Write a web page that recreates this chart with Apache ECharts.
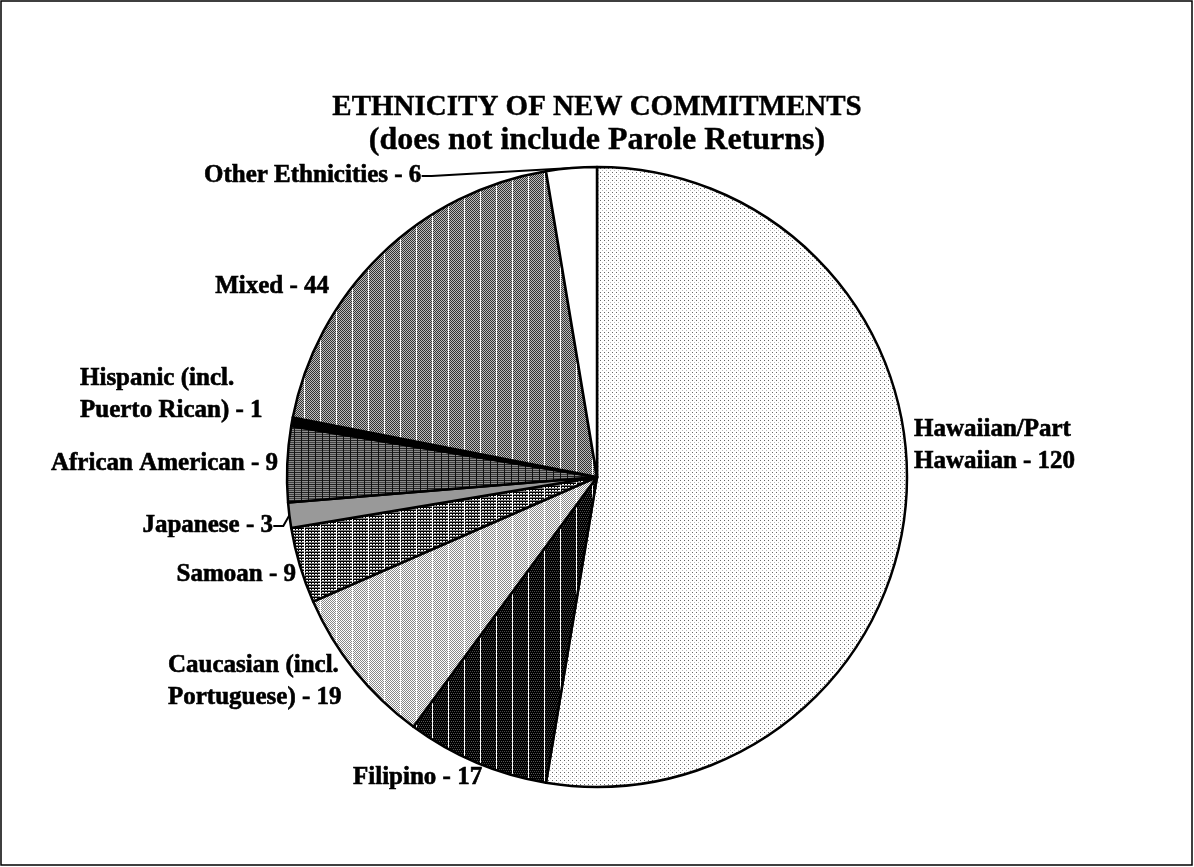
<!DOCTYPE html>
<html>
<head>
<meta charset="utf-8">
<script src="https://cdn.jsdelivr.net/npm/echarts@6/dist/echarts.min.js"></script>
<style>
html,body{margin:0;padding:0;background:#fff;}
#chart{width:1194px;height:867px;}
</style>
</head>
<body>
<div id="chart"></div>
<script>
// ---- data ----
var categories = [
  'Hawaiian/Part\nHawaiian',
  'Filipino',
  'Caucasian (incl.\nPortuguese)',
  'Samoan',
  'Japanese',
  'African American',
  'Hispanic (incl.\nPuerto Rican)',
  'Mixed',
  'Other Ethnicities'
];
var counts = [120, 17, 19, 9, 3, 9, 1, 44, 6];
var titleLines = ['ETHNICITY OF NEW COMMITMENTS', '(does not include Parole Returns)'];

// ---- patterns ----
function tile(w, h, draw) {
  var c = document.createElement('canvas');
  c.width = w; c.height = h;
  var g = c.getContext('2d');
  draw(g, w, h);
  return { image: c, repeat: 'repeat' };
}
function px(g, x, y, col) { g.fillStyle = col; g.fillRect(x, y, 1, 1); }

var patHawaiian = tile(4, 4, function (g) {
  g.fillStyle = '#fff'; g.fillRect(0, 0, 4, 4);
  px(g, 0, 0, '#666'); px(g, 2, 2, '#bbb');
});
var patFilipino = tile(16, 4, function (g) {
  g.fillStyle = '#000'; g.fillRect(0, 0, 16, 4);
  for (var x = 0; x < 16; x += 2) { px(g, x + 1, 1, '#555'); px(g, x, 3, '#444'); }
  g.fillStyle = '#fff'; g.fillRect(0, 0, 1, 4);
});
var patCaucasian = tile(16, 2, function (g) {
  g.fillStyle = '#fff'; g.fillRect(0, 0, 16, 2);
  for (var x = 0; x < 16; x++) { px(g, x, x % 2, '#888'); }
  g.fillStyle = '#fff'; g.fillRect(0, 0, 1, 2);
});
var patSamoan = tile(16, 3, function (g) {
  g.fillStyle = '#fff'; g.fillRect(0, 0, 16, 3);
  g.fillStyle = '#000'; g.fillRect(0, 0, 16, 1);
  for (var x = 1; x < 16; x += 3) g.fillRect(x, 0, 1, 3);
  g.fillStyle = '#777'; g.fillRect(0, 2, 16, 1);
  g.fillStyle = '#fff'; g.fillRect(0, 0, 1, 3);
});
var patJapanese = '#999999';
var patAfrican = tile(7, 4, function (g) {
  g.fillStyle = '#8c8c8c'; g.fillRect(0, 0, 7, 4);
  g.fillStyle = '#222'; g.fillRect(0, 0, 7, 1);
  g.fillStyle = '#444'; g.fillRect(0, 2, 7, 1);
  g.fillStyle = '#111'; g.fillRect(0, 0, 1, 4);
});
var patHispanic = '#000000';
var patMixed = tile(16, 2, function (g) {
  g.fillStyle = '#bdbdbd'; g.fillRect(0, 0, 16, 2);
  for (var x = 0; x < 16; x++) { px(g, x, x % 2, '#333'); }
  g.fillStyle = '#fff'; g.fillRect(0, 0, 1, 2);
});
var patOther = '#ffffff';
var patterns = [patHawaiian, patFilipino, patCaucasian, patSamoan, patJapanese, patAfrican, patHispanic, patMixed, patOther];

// label anchors: [x, middle y, align]
var labelAnchor = {
  0: [914, 446, 'left'],
  1: [353, 778, 'left'],
  2: [168, 682, 'left'],
  3: [296, 575, 'right'],
  4: [273, 526, 'right'],
  5: [278, 464, 'right'],
  6: [80, 395, 'left'],
  7: [329, 287, 'right'],
  8: [204, 176, 'left']
};

var chart = echarts.init(document.getElementById('chart'), null, { renderer: 'canvas' });
var seriesData = categories.map(function (c, i) {
  return {
    name: c,
    value: counts[i],
    itemStyle: { color: patterns[i] },
    labelLine: { show: (i === 4 || i === 8) }
  };
});

chart.setOption({
  animation: false,
  backgroundColor: '#ffffff',
  title: {
    text: '{a|' + titleLines[0] + '}\n{b|' + titleLines[1] + '}',
    left: 'center',
    top: 86,
    textStyle: {
      rich: {
        a: { fontFamily: 'Liberation Serif', fontWeight: 'bold', fontSize: 29, lineHeight: 33, color: '#000', align: 'center', textBorderColor: '#000', textBorderWidth: 0.4 },
        b: { fontFamily: 'Liberation Serif', fontWeight: 'bold', fontSize: 32, lineHeight: 33, color: '#000', align: 'center', textBorderColor: '#000', textBorderWidth: 0.4 }
      }
    }
  },
  graphic: [{
    type: 'rect',
    shape: { x: 1, y: 1, width: 1191, height: 864 },
    style: { fill: 'none', stroke: '#000', lineWidth: 1.5 },
    silent: true
  }],
  series: [{
    type: 'pie',
    center: [597, 477],
    radius: [0, 310],
    startAngle: 90,
    clockwise: true,
    data: seriesData,
    itemStyle: { borderColor: '#000', borderWidth: 2.5 },
    label: {
      show: true,
      position: 'outside',
      formatter: function (p) { return p.name + ' - ' + p.value; },
      fontFamily: 'Liberation Serif',
      fontWeight: 'bold',
      fontSize: 25,
      lineHeight: 32,
      color: '#000',
      textBorderColor: '#000',
      textBorderWidth: 0.6,
      align: 'left'
    },
    labelLine: { lineStyle: { color: '#000', width: 2 }, length: 15, length2: 10 },
    labelLayout: function (p) {
      var a = labelAnchor[p.dataIndex];
      return { x: a[0], y: a[1], align: a[2], verticalAlign: 'middle' };
    },
    emphasis: { disabled: true }
  }]
});
</script>
</body>
</html>
